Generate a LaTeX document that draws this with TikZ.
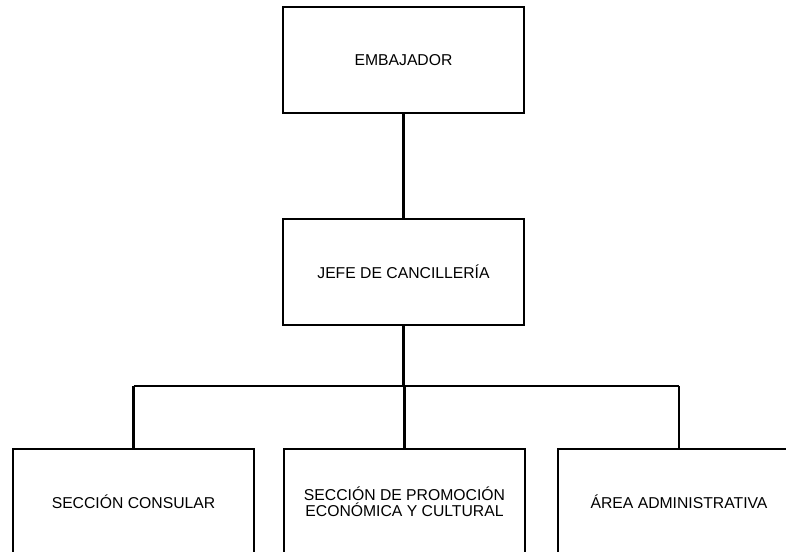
\documentclass[tikz,border=0pt]{standalone}
\usepackage{fontspec}
\setmainfont{Liberation Sans}
\usepackage{tikz}

\begin{document}
\begin{tikzpicture}[x=0.75pt,y=-0.75pt]
            \tikzstyle{unit}=[rectangle,draw=black,line width=1.3pt,fill=white,minimum width=181pt,minimum height=79.5pt,inner sep=0pt,align=center,font=\fontsize{11.8}{12}\selectfont]
            \tikzstyle{link}=[line width=2pt]
            \useasboundingbox (0,0) rectangle (786,552);
            \clip (0,0) rectangle (786,552);

            \node[unit] (U-emb) at (403.5,60) {EMBAJADOR};
            \node[unit] (U-jefe) at (403.5,272) {JEFE DE CANCILLERÍA};
            \foreach \num/\x/\txt in {cons/133.5/SECCIÓN CONSULAR, prom/404.5/{SECCIÓN DE PROMOCIÓN\\ECONÓMICA Y CULTURAL}, area/679/ÁREA ADMINISTRATIVA}
                    \node[unit] (U-\num) at (\x,502) {\txt};

                \coordinate (bus) at (403.5,386);
                \draw[link] (U-emb) -- (U-jefe);
                \draw[link] (U-jefe) -- (bus);
                \draw[line width=1.7pt] (U-cons.north |- bus) -- (U-area.north |- bus);
                \foreach \to in {cons, prom, area}
                    \draw[link] (U-\to.north |- bus) -- (U-\to.north);
        \end{tikzpicture}
\end{document}
